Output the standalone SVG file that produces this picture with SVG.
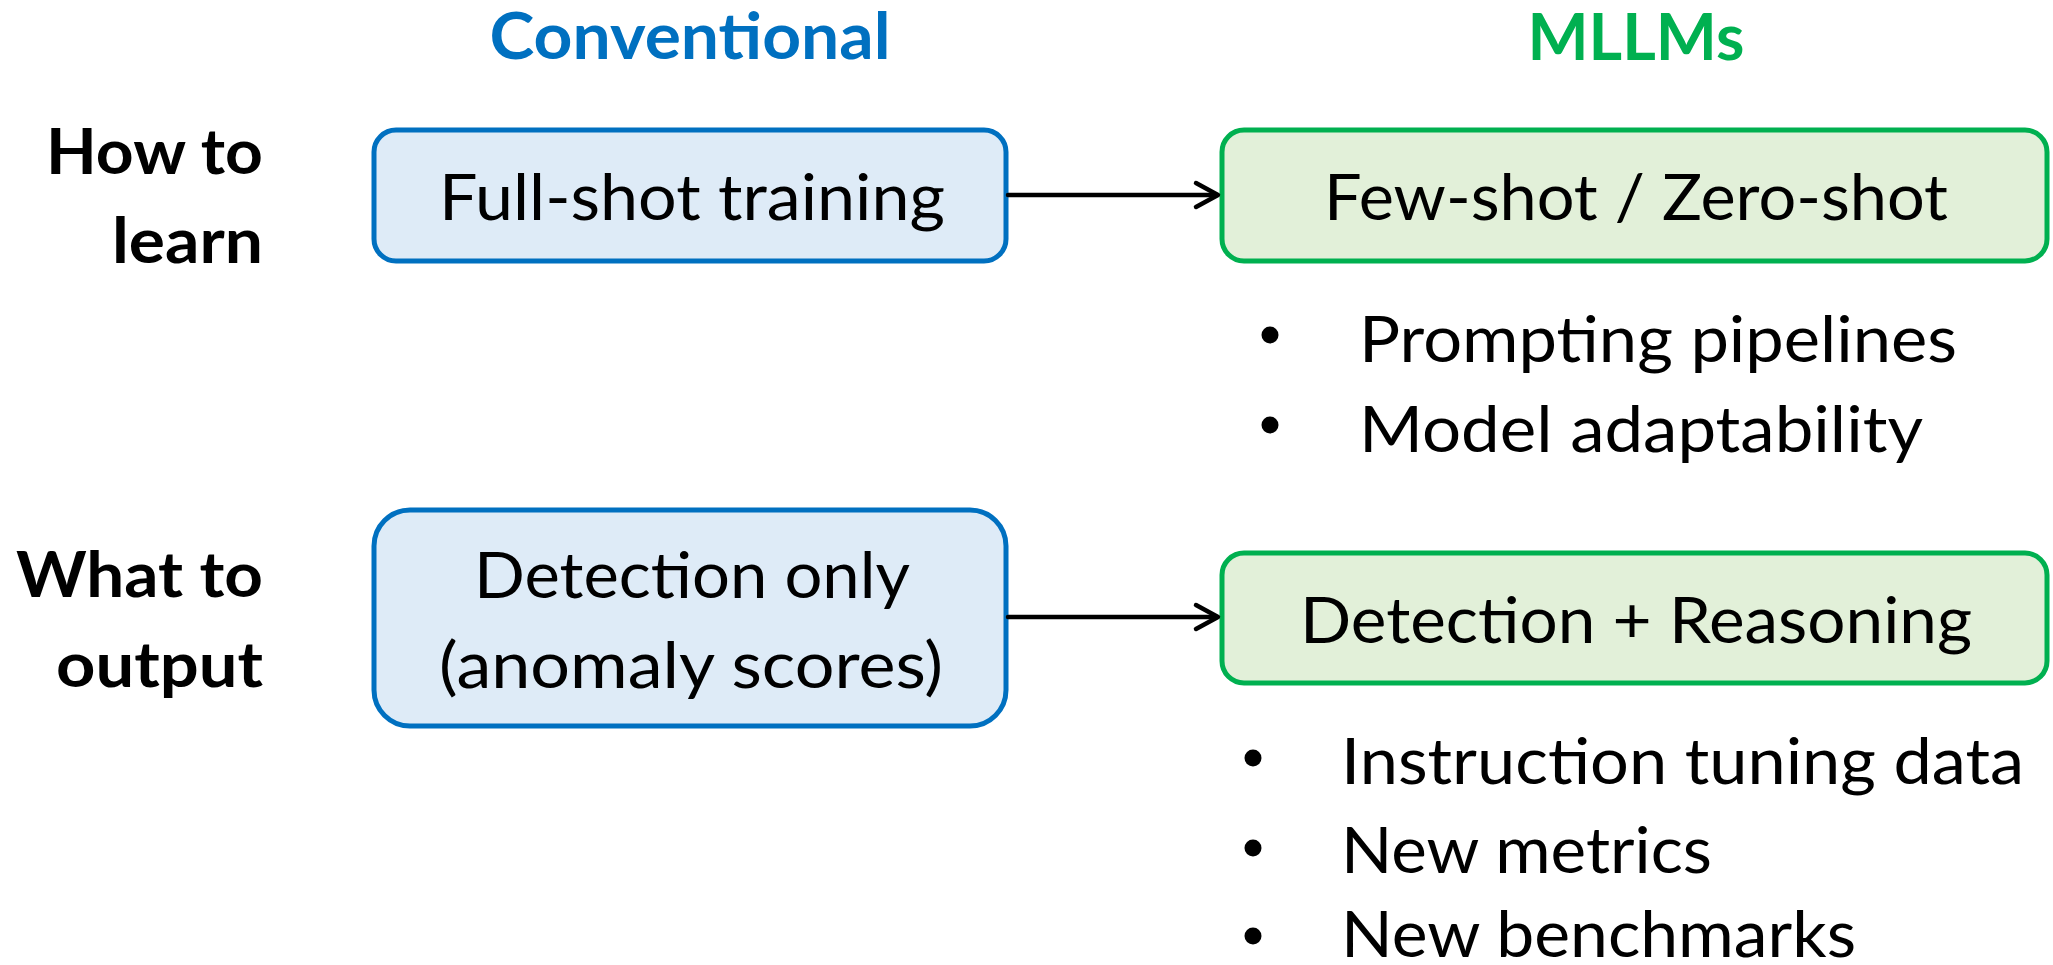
<svg xmlns="http://www.w3.org/2000/svg" width="2053" height="965" viewBox="0 0 2053 965">
<style>
text{font-family:Lato,"Open Sans","Liberation Sans",sans-serif;fill:#000}
.hdr{font-weight:bold;font-size:65px}
.lbl{font-weight:bold;font-size:63px;text-anchor:end}
.txt{font-size:63px}
.mid{text-anchor:middle}
.bbox{fill:#DEEBF7;stroke:#0070C0;stroke-width:5}
.gbox{fill:#E2F0D9;stroke:#00B050;stroke-width:5}
.conn{stroke:#000;stroke-width:4.5;fill:none;stroke-linecap:round;stroke-linejoin:round}
.dot{fill:#000}
</style>
<rect width="2053" height="965" fill="#fff"/>
<g id="headers">
<text class="hdr mid" x="690" y="59" style="fill:#0070C0" textLength="401" lengthAdjust="spacingAndGlyphs">Conventional</text>
<text class="hdr mid" x="1636" y="60" style="fill:#00B050" textLength="217" lengthAdjust="spacingAndGlyphs">MLLMs</text>
</g>
<g id="row-labels">
<text class="lbl" x="263" y="174" textLength="217" lengthAdjust="spacingAndGlyphs">How to</text>
<text class="lbl" x="263" y="263" textLength="151" lengthAdjust="spacingAndGlyphs">learn</text>
<text class="lbl" x="263" y="597" textLength="247" lengthAdjust="spacingAndGlyphs">What to</text>
<text class="lbl" x="263" y="687" textLength="207" lengthAdjust="spacingAndGlyphs">output</text>
</g>
<g id="node-fullshot">
<rect class="bbox" x="374" y="130" width="632" height="131" rx="22"/>
<text class="txt mid" x="692" y="220" textLength="506" lengthAdjust="spacingAndGlyphs">Full-shot training</text>
</g>
<g id="node-fewshot">
<rect class="gbox" x="1222" y="130" width="825" height="131" rx="22"/>
<text class="txt mid" x="1636" y="220" textLength="624" lengthAdjust="spacingAndGlyphs">Few-shot / Zero-shot</text>
</g>
<g id="node-detection">
<rect class="bbox" x="374" y="510" width="632" height="216" rx="36"/>
<text class="txt mid" x="692" y="598" textLength="436" lengthAdjust="spacingAndGlyphs">Detection only</text>
<text class="txt mid" x="691" y="688" textLength="504" lengthAdjust="spacingAndGlyphs">(anomaly scores)</text>
</g>
<g id="node-reasoning">
<rect class="gbox" x="1222" y="553" width="825" height="130" rx="22"/>
<text class="txt mid" x="1636" y="643" textLength="672" lengthAdjust="spacingAndGlyphs">Detection + Reasoning</text>
</g>
<g id="bullets-learn">
<circle class="dot" cx="1270" cy="335" r="8.5"/>
<text class="txt" x="1359" y="362" textLength="598" lengthAdjust="spacingAndGlyphs">Prompting pipelines</text>
<circle class="dot" cx="1270" cy="425" r="8.5"/>
<text class="txt" x="1359" y="452" textLength="564" lengthAdjust="spacingAndGlyphs">Model adaptability</text>
</g>
<g id="bullets-output">
<circle class="dot" cx="1253" cy="758" r="8.5"/>
<text class="txt" x="1341" y="784" textLength="683" lengthAdjust="spacingAndGlyphs">Instruction tuning data</text>
<circle class="dot" cx="1253" cy="848" r="8.5"/>
<text class="txt" x="1341" y="873" textLength="371" lengthAdjust="spacingAndGlyphs">New metrics</text>
<circle class="dot" cx="1253" cy="936" r="8.5"/>
<text class="txt" x="1341" y="957" textLength="515" lengthAdjust="spacingAndGlyphs">New benchmarks</text>
</g>
<g id="connectors">
<line class="conn" x1="1008" y1="195" x2="1217" y2="195"/>
<polyline class="conn" points="1196,183 1218,195 1196,207"/>
<line class="conn" x1="1008" y1="617" x2="1217" y2="617"/>
<polyline class="conn" points="1196,605 1218,617 1196,629"/>
</g>
</svg>
